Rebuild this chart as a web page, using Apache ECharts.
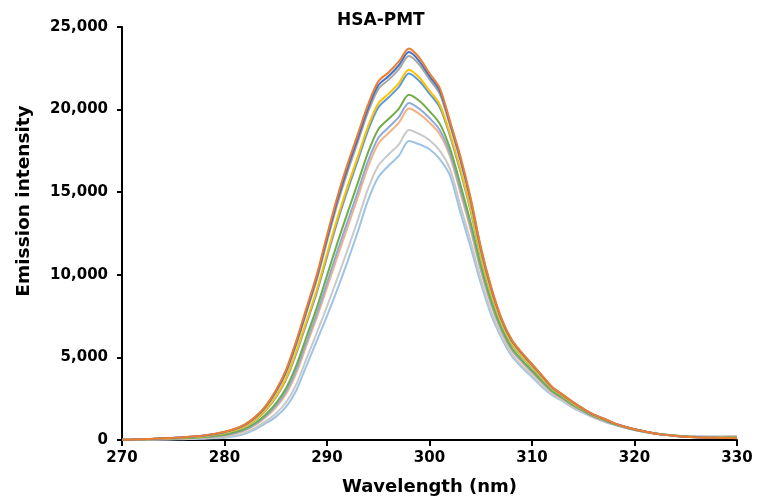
<!DOCTYPE html>
<html>
<head>
<meta charset="utf-8">
<script src="https://cdn.jsdelivr.net/npm/echarts@6/dist/echarts.min.js"></script>
<style>
html,body{margin:0;padding:0;background:#fff;}
#chart{width:757px;height:501px;}
</style>
</head>
<body>
<div id="chart"></div>
<script>
const wavelengths = [270,271,272,273,274,275,276,277,278,279,280,281,282,283,284,285,286,287,288,289,290,291,292,293,294,295,296,297,298,299,300,301,302,303,304,305,306,307,308,309,310,311,312,313,314,315,316,317,318,319,320,321,322,323,324,325,326,327,328,329,330];

const s1 = [10,30,50,70,100,130,170,220,280,370, 500,680,950,1400,2050,3000,4250,6000,8000,10000, 12400,14700,16700,18500,20300,21700,22250,22900,23700,23150, 22200,21300,19300,17200,14700,11700,9300,7400,6100,5300, 4600,3900,3200,2750,2300,1900,1550,1300,1020,820, 650,520,400,310,240,190,160,140,130,120,110];
const s2 = [10,30,50,70,100,130,170,210,270,360, 490,660,930,1370,2010,2940,4160,5880,7860,9850, 12200,14480,16460,18260,20070,21470,22020,22670,23480,22940, 22020,21130,19170,17060,14580,11610,9230,7350,6060,5260, 4570,3870,3180,2730,2290,1890,1540,1290,1020,820, 650,520,400,310,240,190,160,140,130,120,120];
const s3 = [10,30,50,70,90,120,160,210,260,350, 470,640,900,1340,1970,2870,4070,5770,7720,9690, 12010,14250,16230,18030,19840,21240,21800,22440,23250,22730, 21830,20960,19040,16930,14460,11520,9160,7300,6020,5230, 4540,3840,3160,2720,2270,1880,1530,1290,1010,810, 650,520,400,310,240,190,160,150,140,130,120];
const s4 = [10,20,40,60,80,110,140,180,230,310, 420,580,820,1230,1810,2630,3740,5350,7200,9080, 11270,13410,15340,17140,18970,20370,20950,21590,22410,21940, 21140,20310,18540,16420,14010,11190,8910,7120,5870,5090, 4420,3740,3090,2660,2220,1840,1500,1260,1000,800, 640,510,400,310,250,200,170,160,150,140,140];
const s5 = [10,20,40,60,80,110,140,180,230,300, 400,560,800,1200,1770,2570,3660,5230,7060,8920, 11080,13190,15110,16910,18730,20130,20730,21360,22190,21730, 20960,20140,18410,16280,13890,11110,8840,7080,5830,5060, 4380,3710,3070,2640,2210,1830,1500,1250,990,800, 640,510,400,310,250,200,170,160,150,150,140];
const s6 = [10,20,30,50,70,90,110,140,180,240, 320,460,670,1030,1530,2200,3130,4500,6250,8000, 9950,11900,13750,15550,17400,18800,19430,20050,20900,20530, 19900,19150,17650,15500,13200,10600,8450,6800,5600,4850, 4200,3550,2950,2550,2130,1780,1450,1210,970,790, 630,500,400,320,250,210,190,180,170,170,170];
const s7 = [0,10,30,40,60,80,100,130,160,210, 290,420,610,960,1430,2060,2930,4230,5940,7640, 9510,11400,13220,15020,16880,18280,18920,19540,20400,20050, 19490,18760,17350,15190,12930,10400,8300,6690,5510,4770, 4130,3490,2910,2510,2090,1750,1430,1190,960,780, 620,500,400,320,250,210,190,180,180,180,180];
const s8 = [0,10,20,40,50,70,90,120,150,190, 270,390,580,910,1370,1960,2790,4050,5730,7400, 9220,11060,12870,14670,16530,17930,18580,19200,20060,19740, 19210,18510,17160,14990,12750,10270,8200,6620,5450,4720, 4080,3450,2880,2490,2070,1740,1420,1180,960,770, 620,490,400,320,250,220,190,190,180,190,190];
const s9 = [0,0,20,30,40,50,60,80,100,130, 180,280,450,740,1130,1590,2270,3360,4920,6480, 8090,9770,11510,13310,15200,16600,17280,17880,18770,18530, 18150,17520,16400,14210,12060,9760,7800,6340,5220,4510, 3900,3280,2760,2400,1990,1680,1370,1140,930,760, 610,480,390,320,260,220,200,200,200,210,220];
const s10 = [0,0,10,20,30,40,50,60,80,100, 140,230,380,650,1000,1400,2000,3000,4500,6000, 7500,9100,10800,12600,14500,15900,16600,17200,18100,17900, 17600,17000,16000,13800,11700,9500,7600,6200,5100,4400, 3800,3200,2700,2350,1950,1650,1350,1120,920,750, 600,480,390,320,260,230,210,210,210,220,230];

const xTicks = [270,280,290,300,310,320,330];
const yTicks = [0,5000,10000,15000,20000,25000];

const titleText = 'HSA-PMT';
const xName = 'Wavelength (nm)';
const yName = 'Emission intensity';

// draw order: first drawn at bottom
const seriesList = [
  {name:'S10', data:s10, color:'#9DC3E6'},
  {name:'S9', data:s9, color:'#C9C9C9'},
  {name:'S8', data:s8, color:'#F4B183'},
  {name:'S7', data:s7, color:'#8FAADC'},
  {name:'S6', data:s6, color:'#70AD47'},
  {name:'S5', data:s5, color:'#5B9BD5'},
  {name:'S4', data:s4, color:'#FFC000'},
  {name:'S3', data:s3, color:'#A5A5A5'},
  {name:'S2', data:s2, color:'#4472C4'},
  {name:'S1', data:s1, color:'#ED7D31'}
];

const FONT = '"DejaVu Sans", "Liberation Sans", Arial, sans-serif';
const chart = echarts.init(document.getElementById('chart'), null, {renderer:'canvas'});
chart.setOption({
  animation: false,
  backgroundColor: '#ffffff',
  title: {
    text: titleText, left: 337, top: 12, padding: 0,
    textStyle: {fontFamily: FONT, fontWeight: 'bold', fontSize: 17, color: '#000'}
  },
  grid: {left: 122, right: 20, top: 27, bottom: 61, containLabel: false},
  xAxis: {
    type: 'value', min: xTicks[0], max: xTicks[xTicks.length-1], interval: 10,
    name: xName, nameLocation: 'middle', nameGap: 38,
    nameTextStyle: {fontFamily: FONT, fontWeight: 'bold', fontSize: 18, color: '#000'},
    axisLine: {show: true, onZero: false, lineStyle: {color: '#000', width: 2}},
    axisTick: {show: true, length: 6, lineStyle: {color: '#000', width: 2}},
    axisLabel: {margin: 11, fontFamily: FONT, fontWeight: 'bold', fontSize: 15, color: '#000'},
    splitLine: {show: false}
  },
  yAxis: {
    type: 'value', min: yTicks[0], max: yTicks[yTicks.length-1], interval: 5000,
    axisLine: {show: true, lineStyle: {color: '#000', width: 2}},
    axisTick: {show: true, length: 5, lineStyle: {color: '#000', width: 2}},
    axisLabel: {margin: 14, fontFamily: FONT, fontWeight: 'bold', fontSize: 15, color: '#000',
      formatter: v => v.toLocaleString('en-US')},
    splitLine: {show: false}
  },
  graphic: [{
    type: 'text', x: 24, y: 201, rotation: Math.PI/2,
    style: {text: yName, fill: '#000', font: 'bold 18.5px ' + FONT, align: 'center', verticalAlign: 'middle'}
  }],
  series: seriesList.map(s => ({
    type: 'line', name: s.name, showSymbol: false, smooth: 0.3,
    data: wavelengths.map((w, i) => [w, s.data[i]]),
    lineStyle: {color: s.color, width: 2},
    itemStyle: {color: s.color}
  }))
});
</script>
</body>
</html>
